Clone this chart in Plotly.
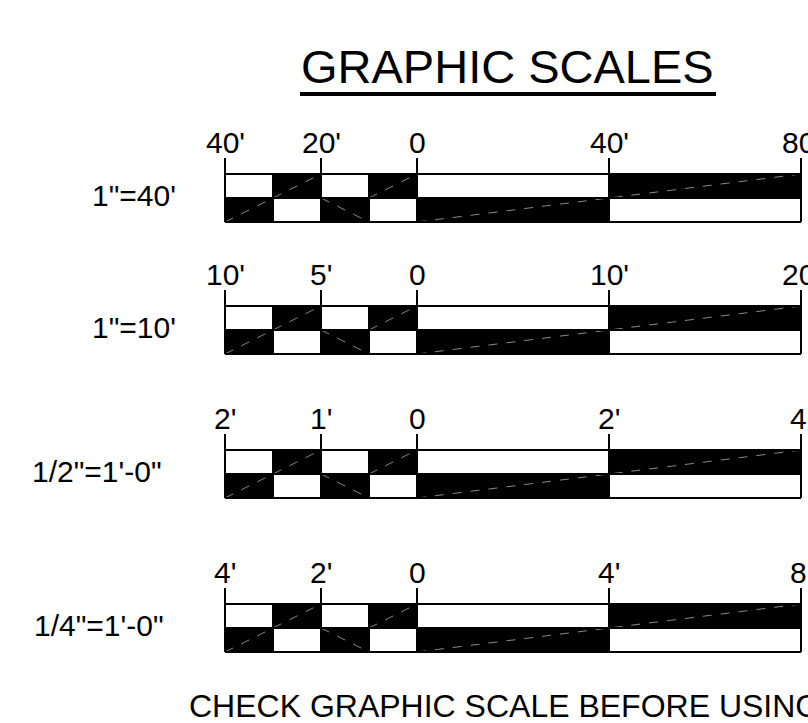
import plotly.graph_objects as go

# ---------------- data ----------------
scale_labels = ['1"=40\'', '1"=10\'', '1/2"=1\'-0"', '1/4"=1\'-0"']
major_ft = [40, 10, 2, 4]
tick_ft = [
    [-40, -20, 0, 40, 80],
    [-10, -5, 0, 10, 20],
    [-2, -1, 0, 2, 4],
    [-4, -2, 0, 4, 8],
]
tick_labels = [
    ["40'", "20'", "0", "40'", "80'"],
    ["10'", "5'", "0", "10'", "20'"],
    ["2'", "1'", "0", "2'", "4'"],
    ["4'", "2'", "0", "4'", "8'"],
]
# segment edges as fractions of the major division
segment_edges = [-1, -0.75, -0.5, -0.25, 0, 1, 2]
top_black = [0, 1, 0, 1, 0, 1]
bottom_black = [1, 0, 1, 0, 1, 0]

title_text = "GRAPHIC SCALES"
footer_text = "CHECK GRAPHIC SCALE BEFORE USING"

# ---------------- layout constants ----------------
W, H = 808, 723
PX_PER_UNIT = 192.0
ORIGIN_PX = 417.0
row_top = [174, 306, 450, 604]     # y (px) of bar top per row
half_h = 24                        # height of each half bar
tick_len = 16
label_x_px = [134, 134, 97, 99]
FONT = "Liberation Sans, Arial, Helvetica, sans-serif"

fig = go.Figure()

annotations = []
line_x, line_y = [], []
diag_x, diag_y = [], []

for r in range(len(scale_labels)):
    top = row_top[r]
    mid = top + half_h
    bot = top + 2 * half_h
    # filled black segments
    bx, bw, by = [], [], []
    for i in range(len(segment_edges) - 1):
        x0, x1 = segment_edges[i], segment_edges[i + 1]
        if top_black[i]:
            bx.append(x0); bw.append(x1 - x0); by.append(top + half_h / 2)
        if bottom_black[i]:
            bx.append(x0); bw.append(x1 - x0); by.append(mid + half_h / 2)
    fig.add_trace(go.Bar(orientation="h", base=bx, x=bw, y=by, width=half_h,
                         marker=dict(color="black", line=dict(width=0)),
                         hoverinfo="skip", showlegend=False))
    xmin, xmax = segment_edges[0], segment_edges[-1]
    # horizontal outline lines
    for yy in (top, mid, bot):
        line_x += [xmin, xmax, None]; line_y += [yy, yy, None]
    # vertical segment boundaries
    for e in segment_edges:
        line_x += [e, e, None]; line_y += [top, bot, None]
    # ticks and labels
    for ft, lab in zip(tick_ft[r], tick_labels[r]):
        u = ft / major_ft[r]
        line_x += [u, u, None]; line_y += [top - tick_len, top, None]
        annotations.append(dict(x=u, y=top - 32, xref="x", yref="y", text=lab,
                                showarrow=False, xanchor="center", yanchor="middle",
                                font=dict(family=FONT, size=30, color="black")))
    # faint hatch diagonals
    for (xa, ya, xb, yb) in [(-1, bot, -0.5, top), (-0.5, mid, -0.25, bot),
                             (-0.25, mid, 0, top), (0, bot, 2, top)]:
        diag_x += [xa, xb, None]; diag_y += [ya, yb, None]
    # scale name
    annotations.append(dict(x=label_x_px[r] / W, y=mid - 3, xref="paper", yref="y",
                            text=scale_labels[r], showarrow=False,
                            xanchor="center", yanchor="middle",
                            font=dict(family=FONT, size=30, color="black")))

fig.add_trace(go.Scatter(x=diag_x, y=diag_y, mode="lines",
                         line=dict(color="#8a8a8a", width=1, dash="dash"),
                         hoverinfo="skip", showlegend=False))
fig.add_trace(go.Scatter(x=line_x, y=line_y, mode="lines",
                         line=dict(color="black", width=2),
                         hoverinfo="skip", showlegend=False))

annotations.append(dict(x=507 / W, y=66, xref="paper", yref="y", text=title_text,
                        showarrow=False, xanchor="center", yanchor="middle",
                        font=dict(family=FONT, size=47, color="black")))
annotations.append(dict(x=187 / W, y=706, xref="paper", yref="y", text=footer_text,
                        showarrow=False, xanchor="left", yanchor="middle",
                        font=dict(family=FONT, size=32, color="black")))

fig.update_layout(
    width=W, height=H, margin=dict(l=0, r=0, t=0, b=0),
    paper_bgcolor="white", plot_bgcolor="white",
    barmode="overlay", bargap=0,
    xaxis=dict(range=[-ORIGIN_PX / PX_PER_UNIT, (W - ORIGIN_PX) / PX_PER_UNIT],
               visible=False, fixedrange=True),
    yaxis=dict(range=[H, 0], visible=False, fixedrange=True),
    annotations=annotations,
    shapes=[dict(type="line", xref="paper", yref="y", x0=300 / W, x1=716 / W,
                 y0=94, y1=94, line=dict(color="black", width=4))],
)

fig.write_html("out.html", config={"displayModeBar": False},
               post_script="document.body.style.margin='0';document.body.style.overflow='hidden';")
